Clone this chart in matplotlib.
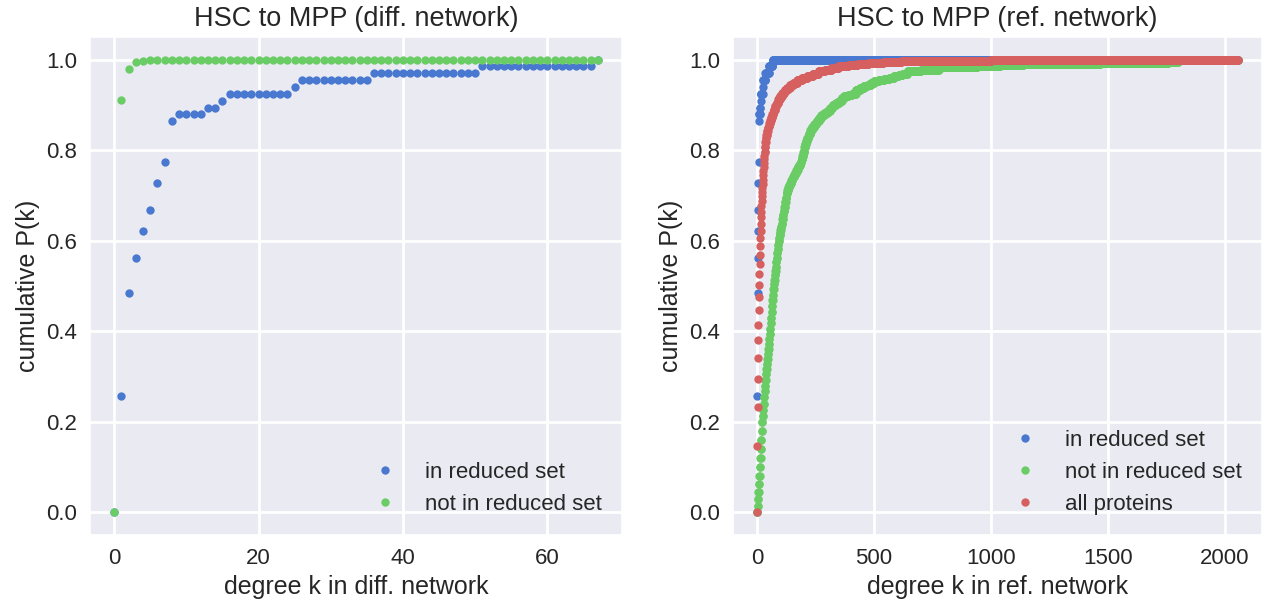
import numpy as np
import matplotlib
matplotlib.use("Agg")
import matplotlib.pyplot as plt
import seaborn as sns

# ---------------- data (CDF breakpoints: degree k, cumulative P(k)) ----------------
# Left panel: degree in differential network
diff_kmax = 67
diff_reduced_k = [0, 1, 2, 3, 4, 5, 6, 7, 8, 9, 13, 15, 16, 25, 26, 36, 51, 67]
diff_reduced_p = [0.0, 0.258, 0.485, 0.561, 0.621, 0.667, 0.727, 0.773, 0.864,
                  0.879, 0.894, 0.909, 0.924, 0.939, 0.955, 0.970, 0.985, 1.0]
diff_other_k = [0, 1, 2, 3, 4, 5, 6]
diff_other_p = [0.0, 0.911, 0.979, 0.994, 0.997, 0.999, 1.0]

# Right panel: degree in reference network
ref_kmax = 2055
ref_reduced_k = [0, 1, 2, 3, 4, 5, 6, 7, 8, 9, 13, 15, 16, 25, 26, 36, 51, 67]
ref_reduced_p = [0.0, 0.258, 0.485, 0.561, 0.621, 0.667, 0.727, 0.773, 0.864,
                 0.879, 0.894, 0.909, 0.924, 0.939, 0.955, 0.970, 0.985, 1.0]

ref_other_k = [0, 2, 4, 6, 8, 10, 12, 14, 16, 18, 20, 22, 24, 26, 28, 30, 32, 34, 36, 38,
               40, 42, 44, 46, 48, 50, 52, 54, 56, 58, 60, 62, 64, 66, 68, 70, 72, 74, 76,
               78, 80, 82, 84, 86, 88, 90, 92, 94, 96, 98, 100, 102, 105, 108, 111, 114,
               117, 120, 123, 126, 130, 134, 138, 142, 147, 152, 157, 162, 168, 174, 180,
               186, 190, 194, 198, 202, 206, 210, 214, 220, 228, 235, 245, 255, 265, 275,
               288, 301, 312, 323, 337, 351, 362, 372, 390, 405, 422, 440, 456, 472, 486,
               500, 520, 543, 565, 585, 605, 621, 643, 700, 777, 860, 941, 1040, 1139,
               1300, 1467, 1600, 1757, 1800]
ref_other_p = [0.000, 0.014, 0.030, 0.046, 0.062, 0.080, 0.100, 0.120, 0.140, 0.160,
               0.180, 0.200, 0.213, 0.227, 0.240, 0.254, 0.267, 0.280, 0.293, 0.306,
               0.317, 0.328, 0.339, 0.350, 0.361, 0.372, 0.383, 0.394, 0.405, 0.418,
               0.430, 0.443, 0.455, 0.468, 0.480, 0.493, 0.504, 0.514, 0.524, 0.533,
               0.543, 0.552, 0.562, 0.572, 0.581, 0.591, 0.600, 0.606, 0.612, 0.618,
               0.624, 0.630, 0.638, 0.648, 0.657, 0.666, 0.675, 0.685, 0.695, 0.705,
               0.712, 0.718, 0.723, 0.728, 0.734, 0.740, 0.745, 0.750, 0.756, 0.762,
               0.768, 0.775, 0.780, 0.788, 0.797, 0.806, 0.814, 0.821, 0.828, 0.836,
               0.845, 0.852, 0.858, 0.864, 0.870, 0.877, 0.882, 0.887, 0.894, 0.900,
               0.904, 0.909, 0.915, 0.919, 0.922, 0.925, 0.932, 0.937, 0.941, 0.945,
               0.949, 0.952, 0.955, 0.957, 0.960, 0.963, 0.966, 0.968, 0.976, 0.977,
               0.983, 0.984, 0.987, 0.988, 0.990, 0.991, 0.992, 0.993, 0.995, 1.0]

ref_all_k = [0, 1, 2, 3, 4, 5, 6, 7, 8, 9, 10, 11, 12, 13, 14, 15, 16, 17, 18, 19, 20,
             21, 22, 23, 24, 25, 26, 27, 28, 29, 30, 31, 32, 34, 36, 38, 40, 43, 46, 49,
             53, 57, 61, 66, 71, 77, 84, 91, 99, 108, 118, 128, 140, 155, 172, 192, 215,
             238, 263, 290, 318, 348, 390, 430, 476, 540, 618, 720, 850, 1000, 1300, 2055]
ref_all_p = [0.0, 0.146, 0.232, 0.294, 0.341, 0.380, 0.414, 0.447, 0.476, 0.502, 0.527,
             0.548, 0.569, 0.588, 0.607, 0.622, 0.638, 0.652, 0.664, 0.677, 0.688,
             0.698, 0.707, 0.716, 0.726, 0.735, 0.745, 0.754, 0.763, 0.772, 0.780,
             0.788, 0.796, 0.808, 0.818, 0.827, 0.834, 0.842, 0.848, 0.853, 0.860,
             0.867, 0.873, 0.881, 0.889, 0.897, 0.905, 0.912, 0.919, 0.926, 0.932,
             0.937, 0.943, 0.949, 0.954, 0.959, 0.964, 0.969, 0.974, 0.978, 0.982,
             0.985, 0.988, 0.990, 0.993, 0.995, 0.996, 0.997, 0.998, 0.999, 0.9995, 1.0]

labels_left = ["in reduced set", "not in reduced set"]
labels_right = ["in reduced set", "not in reduced set", "all proteins"]


def cdf_on_grid(bk, bp, kmax):
    """Evaluate a step CDF (given by its breakpoints) at every integer degree."""
    k = np.arange(0, kmax + 1)
    idx = np.searchsorted(np.asarray(bk), k, side="right") - 1
    return k, np.asarray(bp)[idx]


# ---------------- style ----------------
sns.set_theme(style="darkgrid")
plt.rcParams["font.family"] = ["Liberation Sans", "DejaVu Sans"]
plt.rcParams["text.color"] = "#262626"
plt.rcParams["axes.labelcolor"] = "#262626"
plt.rcParams["xtick.color"] = "#262626"
plt.rcParams["ytick.color"] = "#262626"
plt.rcParams["grid.linewidth"] = 2.0

pal = sns.color_palette("muted")
c_blue, c_green, c_red = pal[0], pal[2], pal[3]

fig = plt.figure(figsize=(12.63, 6.08), dpi=100)
W, H = 1263, 608
ax1 = fig.add_axes([90 / W, 1 - 535 / H, (622 - 90) / W, (535 - 37) / H])
ax2 = fig.add_axes([733 / W, 1 - 535 / H, (1262 - 733) / W, (535 - 37) / H])

ms = 6.0
tick_fs = 16
label_fs = 18
title_fs = 19.5
legend_fs = 16

# left panel
k, p = cdf_on_grid(diff_reduced_k, diff_reduced_p, diff_kmax)
ax1.plot(k, p, "o", ms=ms, color=c_blue, mew=0, label=labels_left[0])
k, p = cdf_on_grid(diff_other_k, diff_other_p, diff_kmax)
ax1.plot(k, p, "o", ms=ms, color=c_green, mew=0, label=labels_left[1])
ax1.set_title("HSC to MPP (diff. network)", fontsize=title_fs, pad=8)
ax1.set_xlabel("degree k in diff. network", fontsize=label_fs)
ax1.set_ylabel("cumulative P(k)", fontsize=label_fs)
ax1.set_xticks([0, 20, 40, 60])
ax1.legend(loc="lower right", frameon=False, fontsize=legend_fs, markerscale=1.0)

# right panel
k, p = cdf_on_grid(ref_reduced_k, ref_reduced_p, ref_kmax)
ax2.plot(k, p, "o", ms=ms, color=c_blue, mew=0, label=labels_right[0])
k, p = cdf_on_grid(ref_other_k, ref_other_p, ref_kmax)
ax2.plot(k, p, "o", ms=ms, color=c_green, mew=0, label=labels_right[1])
k, p = cdf_on_grid(ref_all_k, ref_all_p, ref_kmax)
ax2.plot(k, p, "o", ms=ms, color=c_red, mew=0, label=labels_right[2])
ax2.set_title("HSC to MPP (ref. network)", fontsize=title_fs, pad=8)
ax2.set_xlabel("degree k in ref. network", fontsize=label_fs)
ax2.set_ylabel("cumulative P(k)", fontsize=label_fs)
ax2.set_xticks([0, 500, 1000, 1500, 2000])
ax2.legend(loc="lower right", frameon=False, fontsize=legend_fs)

for ax in (ax1, ax2):
    ax.set_yticks([0.0, 0.2, 0.4, 0.6, 0.8, 1.0])
    ax.set_yticklabels(["0.0", "0.2", "0.4", "0.6", "0.8", "1.0"])
    ax.tick_params(labelsize=tick_fs)
    ax.set_ylim(-0.05, 1.05)

ax1.set_xlim(-0.05 * diff_kmax, 1.05 * diff_kmax)
ax2.set_xlim(-0.05 * ref_kmax, 1.05 * ref_kmax)

fig.savefig("out.png", dpi=100)
